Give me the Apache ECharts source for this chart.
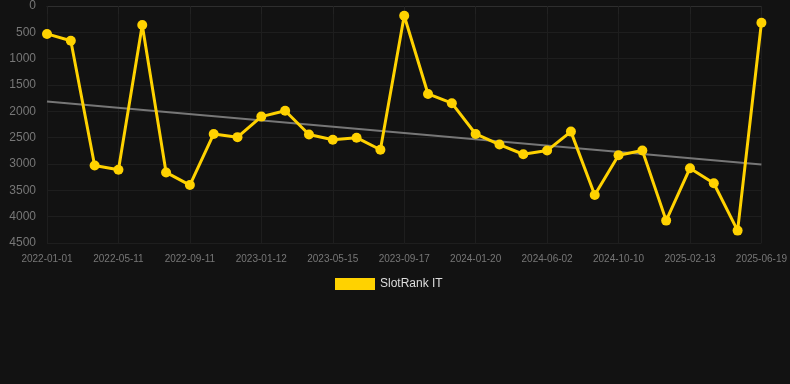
<!DOCTYPE html>
<html>
<head>
<meta charset="utf-8">
<script src="https://cdn.jsdelivr.net/npm/echarts@6/dist/echarts.min.js"></script>
<style>
  html, body { margin: 0; padding: 0; background: #121212; }
  #chart { width: 790px; height: 384px; }
</style>
</head>
<body>
<div id="chart"></div>
<script>
var dates = ['2022-01-01','2022-02-13','2022-03-28','2022-05-11','2022-06-21','2022-08-01',
             '2022-09-11','2022-10-22','2022-12-02','2023-01-12','2023-02-22','2023-04-04',
             '2023-05-15','2023-06-25','2023-08-06','2023-09-17','2023-10-29','2023-12-09',
             '2024-01-20','2024-03-03','2024-04-17','2024-06-02','2024-07-13','2024-08-26',
             '2024-10-10','2024-11-21','2025-01-01','2025-02-13','2025-03-28','2025-05-08',
             '2025-06-19'];
var rank = [530, 660, 3030, 3110, 360, 3160, 3400, 2430, 2490, 2100, 1990, 2440,
            2540, 2500, 2730, 185, 1670, 1845, 2430, 2630, 2815, 2745, 2385, 3590,
            2835, 2745, 4075, 3080, 3365, 4265, 318];
// trend line: only the two ends, joined straight
var trend = [1815, null, null, null, null, null, null, null, null, null, null, null,
             null, null, null, null, null, null, null, null, null, null, null, null,
             null, null, null, null, null, null, 3010];

var myChart = echarts.init(document.getElementById('chart'));

var option = {
    backgroundColor: '#121212',
    animation: false,
    grid: {
        left: 47,
        right: 28,
        top: 6,
        bottom: 141
    },
    legend: {
        top: 273,
        left: 330,
        itemWidth: 40,
        itemHeight: 12,
        data: [{name: 'SlotRank IT', icon: 'rect'}],
        textStyle: {color: '#dddddd', fontSize: 12, fontFamily: 'Liberation Sans, Arial, sans-serif'}
    },
    xAxis: {
        type: 'category',
        boundaryGap: false,
        data: dates,
        axisLine: {lineStyle: {color: '#2e2e2e'}},
        axisTick: {show: true, interval: 2, length: 8, lineStyle: {color: '#222222'}},
        axisLabel: {
            interval: 2,
            color: '#777777',
            fontSize: 10,
            margin: 11,
            fontFamily: 'Liberation Sans, Arial, sans-serif'
        },
        splitLine: {show: true, interval: 2, lineStyle: {color: '#1e1e1e'}}
    },
    yAxis: {
        type: 'value',
        inverse: true,
        min: 0,
        max: 4500,
        interval: 500,
        axisLine: {show: false},
        axisTick: {show: false},
        axisLabel: {
            color: '#777777',
            fontSize: 12,
            margin: 11,
            formatter: function (v) { return String(v); },
            fontFamily: 'Liberation Sans, Arial, sans-serif'
        },
        splitLine: {lineStyle: {color: '#1e1e1e'}}
    },
    series: [{
        name: 'SlotRank IT',
        type: 'line',
        data: rank,
        symbol: 'circle',
        symbolSize: 10,
        lineStyle: {width: 3, color: '#ffd200'},
        itemStyle: {color: '#ffd200'},
        z: 3
    }, {
        name: 'trend',
        type: 'line',
        data: trend,
        connectNulls: true,
        symbol: 'none',
        lineStyle: {width: 2, color: '#777777'},
        z: 2
    }]
};

myChart.setOption(option);
</script>
</body>
</html>
